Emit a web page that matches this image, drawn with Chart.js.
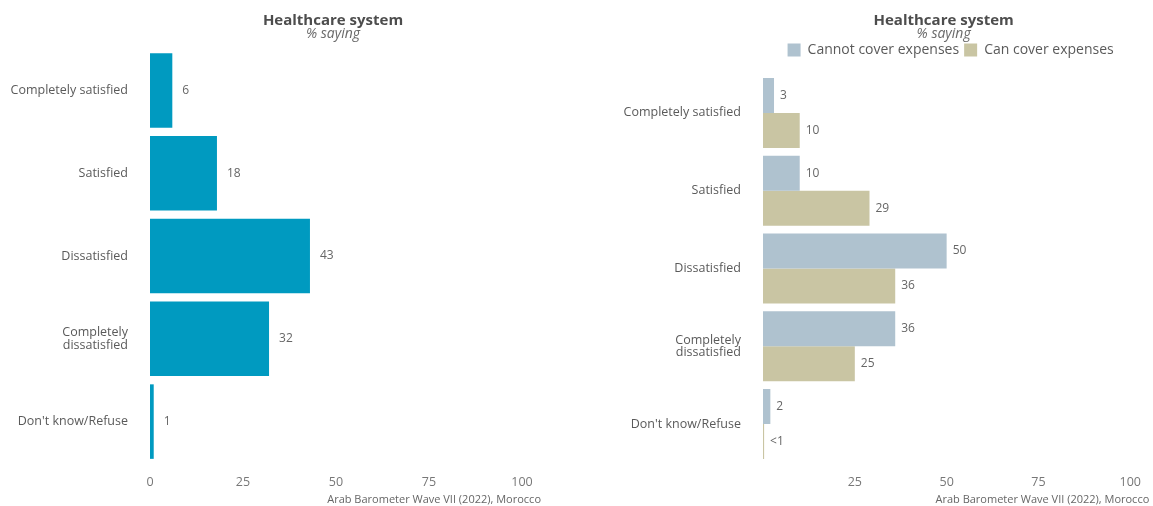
<!DOCTYPE html>
<html>
<head>
<meta charset="utf-8">
<script src="https://cdn.jsdelivr.net/npm/chart.js@4"></script>
<style>
  html, body { margin: 0; padding: 0; background: #fff; overflow: hidden; }
  #left { position: absolute; left: 0; top: 0; }
  #right { position: absolute; left: 576px; top: 0; }
</style>
</head>
<body>
<canvas id="left" width="576" height="506"></canvas>
<canvas id="right" width="577" height="506"></canvas>
<script>
var categories = ['Completely satisfied', 'Satisfied', 'Dissatisfied', ['Completely', 'dissatisfied'], "Don't know/Refuse"];
var overallValues = [6, 18, 43, 32, 1];
var overallLabels = ['6', '18', '43', '32', '1'];
var cannotValues = [3, 10, 50, 36, 2];
var cannotLabels = ['3', '10', '50', '36', '2'];
var canValues = [10, 29, 36, 25, 0.3];
var canLabels = ['10', '29', '36', '25', '<1'];
var seriesNames = ['Cannot cover expenses', 'Can cover expenses'];
var titleText = 'Healthcare system';
var subtitleText = '% saying';
var captionText = 'Arab Barometer Wave VII (2022), Morocco';

var FONT = "'Open Sans', sans-serif";
var textGrey = '#5a5a5a';

// titles, caption and value labels
var decorPlugin = {
    id: 'decor',
    afterLayout: function(chart) {
        var a = chart.chartArea;
        if (chart.legend && chart.options.plugins.legend.display) {
            chart.legend.left = a.left + 4;
            chart.legend.right = a.right + 4;
            chart.legend.top = 38;
        }
    },
    afterDraw: function(chart, args, opts) {
        var ctx = chart.ctx;
        var a = chart.chartArea;
        var cx = (a.left + a.right) / 2 - 3;
        ctx.save();
        ctx.textAlign = 'center';
        ctx.textBaseline = 'middle';
        ctx.fillStyle = '#4d4d4d';
        ctx.font = 'bold 15px ' + FONT;
        ctx.fillText(titleText, cx, 21);
        ctx.fillStyle = '#6a6a6a';
        ctx.font = 'italic 14px ' + FONT;
        ctx.fillText(subtitleText, cx, 34);

        ctx.textAlign = 'right';
        ctx.fillStyle = '#666';
        ctx.font = '11px ' + FONT;
        ctx.fillText(captionText, a.right + 19, 500);

        ctx.textAlign = 'left';
        ctx.font = '12px ' + FONT;
        ctx.fillStyle = '#666';
        var off = opts.offset || 8;
        chart.data.datasets.forEach(function(ds, i) {
            chart.getDatasetMeta(i).data.forEach(function(bar, j) {
                ctx.fillText(ds.valueLabels[j], bar.x + off, bar.y);
            });
        });
        ctx.restore();
    }
};

function yAxis(width) {
    return {
        grid: { display: false, drawTicks: false },
        border: { display: false },
        ticks: { color: textGrey, padding: 22, font: { family: FONT, size: 12.5, lineHeight: 1.0 } },
        afterFit: function(scale) { scale.width = width; }
    };
}

function xAxis(hideZero) {
    return {
        min: 0,
        max: 100,
        grid: { display: false, drawTicks: false },
        border: { display: false },
        ticks: {
            stepSize: 25,
            color: '#777',
            padding: 12,
            font: { family: FONT, size: 12.5 },
            callback: function(v) { return (hideZero && v === 0) ? '' : v; }
        },
        afterFit: function(scale) { scale.height = 43; }
    };
}

new Chart(document.getElementById('left'), {
    type: 'bar',
    data: {
        labels: categories,
        datasets: [{
            label: 'Overall',
            data: overallValues,
            valueLabels: overallLabels,
            backgroundColor: '#009ac0',
            barPercentage: 0.9,
            categoryPercentage: 1
        }]
    },
    options: {
        indexAxis: 'y',
        responsive: false,
        animation: false,
        layout: { padding: { top: 49, right: 54, left: 0, bottom: 0 } },
        plugins: { legend: { display: false }, tooltip: { enabled: false }, decor: { offset: 10 } },
        scales: { x: xAxis(false), y: yAxis(150) }
    },
    plugins: [decorPlugin]
});

new Chart(document.getElementById('right'), {
    type: 'bar',
    data: {
        labels: categories,
        datasets: [{
            label: seriesNames[0],
            data: cannotValues,
            valueLabels: cannotLabels,
            backgroundColor: '#afc2cf',
            barPercentage: 1,
            categoryPercentage: 0.9
        }, {
            label: seriesNames[1],
            data: canValues,
            valueLabels: canLabels,
            backgroundColor: '#c9c5a3',
            barPercentage: 1,
            categoryPercentage: 0.9
        }]
    },
    options: {
        indexAxis: 'y',
        responsive: false,
        animation: false,
        layout: { padding: { top: 45, right: 18, left: 0, bottom: 0 } },
        plugins: {
            legend: {
                display: true,
                position: 'top',
                labels: {
                    color: textGrey,
                    boxWidth: 13,
                    boxHeight: 13,
                    padding: 5,
                    font: { family: FONT, size: 14 }
                }
            },
            tooltip: { enabled: false },
            decor: { offset: 6 }
        },
        scales: { x: xAxis(true), y: yAxis(187) }
    },
    plugins: [decorPlugin]
});
</script>
</body>
</html>
